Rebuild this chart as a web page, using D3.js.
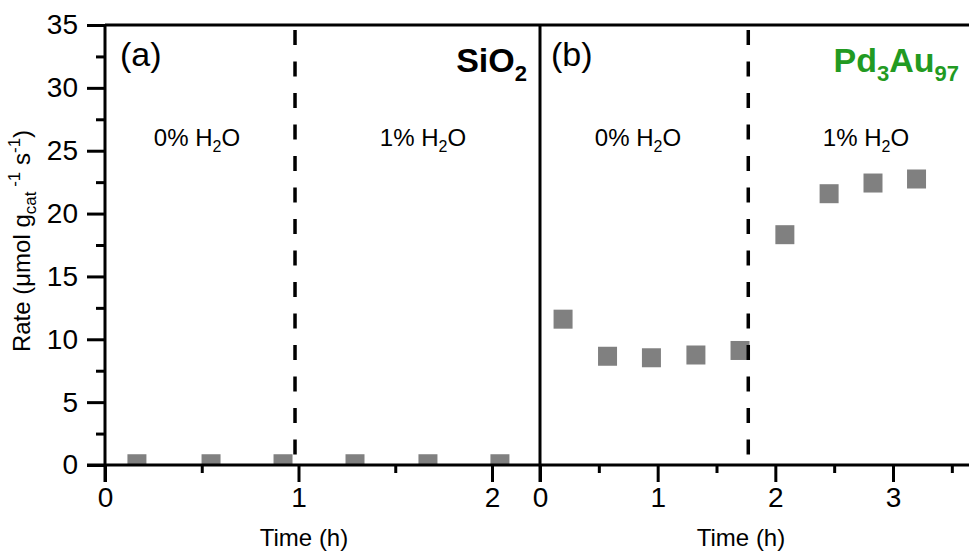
<!DOCTYPE html>
<html><head><meta charset="utf-8">
<script src="https://cdn.jsdelivr.net/npm/d3@7"></script>
<style>
html,body{margin:0;padding:0;background:#fff;}
svg text{font-family:"Liberation Sans",Arial,sans-serif;fill:#000;}
</style></head>
<body>
<svg id="c" width="969" height="552"></svg>
<script>
// ---- data ----
const yTicks = [0,5,10,15,20,25,30,35];
const yMinor = [2.5,7.5,12.5,17.5,22.5,27.5,32.5];
const xTicksA = [0,1,2];
const xMinorA = [0.5,1.5];
const xTicksB = [0,1,2,3];
const xMinorB = [0.5,1.5,2.5,3.5];
const timeA = [0.165,0.548,0.92,1.292,1.669,2.041];
const rateA = [0.1,0.1,0.1,0.1,0.1,0.1];
const timeB = [0.196,0.574,0.947,1.325,1.70,2.081,2.457,2.83,3.20];
const rateB = [11.6,8.65,8.53,8.75,9.11,18.32,21.58,22.43,22.75];
const switchA = 0.982, switchB = 1.77;
const regionLabels = ["0% H", "1% H"];

const svg = d3.select("#c");
const y = d3.scaleLinear().domain([0,35]).range([465,25]);
const xa = d3.scaleLinear().domain([0,2]).range([105,492]);
const xb = d3.scaleLinear().domain([0,3]).range([540,893]);
const W = 969;

svg.append("defs").append("clipPath").attr("id","plot")
  .append("rect").attr("x",105).attr("y",25).attr("width",W-105).attr("height",440);

// markers
const mk = svg.append("g").attr("clip-path","url(#plot)");
const S = 19;
mk.selectAll("rect.a").data(timeA.map((t,i)=>[t,rateA[i]])).join("rect")
  .attr("x",d=>xa(d[0])-S/2).attr("y",d=>y(d[1])-S/2).attr("width",S).attr("height",S)
  .attr("fill","#808080");
mk.selectAll("rect.b").data(timeB.map((t,i)=>[t,rateB[i]])).join("rect")
  .attr("x",d=>xb(d[0])-S/2).attr("y",d=>y(d[1])-S/2).attr("width",S).attr("height",S)
  .attr("fill","#808080");

// dashed lines
[[xa,switchA],[xb,switchB]].forEach(([sc,v])=>{
  svg.append("line").attr("x1",sc(v)).attr("x2",sc(v)).attr("y1",y(35)+5).attr("y2",y(0))
    .attr("stroke","#000").attr("stroke-width",3.5).attr("stroke-dasharray","15,16.5");
});

function styleAxis(g){
  g.select(".domain").remove();
  g.selectAll(".tick line").attr("stroke","#000").attr("stroke-width",3);
  g.selectAll(".tick text").attr("font-size",28).attr("fill","#000");
}
// y axis
svg.append("g").attr("transform","translate(105,0)")
  .call(d3.axisLeft(y).tickValues(yTicks).tickSize(18).tickPadding(9).tickFormat(d3.format("d")))
  .call(styleAxis);
svg.append("g").attr("transform","translate(105,0)")
  .call(d3.axisLeft(y).tickValues(yMinor).tickSize(9).tickFormat(""))
  .call(styleAxis);
// x axes
function xAxis(sc, maj, mnr){
  svg.append("g").attr("transform","translate(0,465)")
    .call(d3.axisBottom(sc).tickValues(maj).tickSize(17).tickPadding(5).tickFormat(d3.format("d")))
    .call(styleAxis);
  svg.append("g").attr("transform","translate(0,465)")
    .call(d3.axisBottom(sc).tickValues(mnr).tickSize(8).tickFormat(""))
    .call(styleAxis);
}
xAxis(xa,xTicksA,xMinorA);
xAxis(xb,xTicksB,xMinorB);

// frame lines
svg.append("line").attr("x1",105).attr("x2",W).attr("y1",y(35)).attr("y2",y(35)).attr("stroke","#000").attr("stroke-width",3);
svg.append("line").attr("x1",87).attr("x2",W).attr("y1",y(0)).attr("y2",y(0)).attr("stroke","#000").attr("stroke-width",3);
svg.append("line").attr("x1",105).attr("x2",105).attr("y1",y(35)).attr("y2",482).attr("stroke","#000").attr("stroke-width",3);
svg.append("line").attr("x1",540).attr("x2",540).attr("y1",y(35)).attr("y2",482).attr("stroke","#000").attr("stroke-width",3);

// axis titles
svg.append("text").attr("x",304).attr("y",546).attr("text-anchor","middle").attr("font-size",24).text("Time (h)");
svg.append("text").attr("x",741).attr("y",546).attr("text-anchor","middle").attr("font-size",24).text("Time (h)");

const yl = svg.append("text").attr("transform","translate(30,241) rotate(-90)")
  .attr("text-anchor","middle").attr("font-size",24);
yl.append("tspan").text("Rate (\u03bcmol g");
yl.append("tspan").attr("font-size",17).attr("dy",6).text("cat");
yl.append("tspan").attr("font-size",17).attr("dy",-16).text(" -1");
yl.append("tspan").attr("dy",10).text(" s");
yl.append("tspan").attr("font-size",17).attr("dy",-10).text("-1");
yl.append("tspan").attr("dy",10).text(")");

// panel labels
svg.append("text").attr("x",120).attr("y",66).attr("font-size",34).text("(a)");
svg.append("text").attr("x",551).attr("y",66).attr("font-size",34).text("(b)");

const si = svg.append("text").attr("x",527).attr("y",72).attr("text-anchor","end")
  .attr("font-size",34).attr("font-weight","bold");
si.append("tspan").text("SiO");
si.append("tspan").attr("font-size",22).attr("dy",9).text("2");

const pd = svg.append("text").attr("x",959).attr("y",72).attr("text-anchor","end")
  .attr("font-size",34).attr("font-weight","bold").style("fill","#229a22");
pd.append("tspan").style("fill","#229a22").text("Pd");
pd.append("tspan").style("fill","#229a22").attr("font-size",22).attr("dy",9).text("3");
pd.append("tspan").style("fill","#229a22").attr("dy",-9).text("Au");
pd.append("tspan").style("fill","#229a22").attr("font-size",22).attr("dy",9).text("97");

// region labels
function h2o(cx, lab){
  const t = svg.append("text").attr("x",cx).attr("y",146).attr("text-anchor","middle").attr("font-size",24);
  t.append("tspan").text(lab);
  t.append("tspan").attr("font-size",16).attr("dy",6).text("2");
  t.append("tspan").attr("dy",-6).text("O");
}
h2o(197, regionLabels[0]);
h2o(423, regionLabels[1]);
h2o(638, regionLabels[0]);
h2o(866, regionLabels[1]);
</script>
</body></html>
